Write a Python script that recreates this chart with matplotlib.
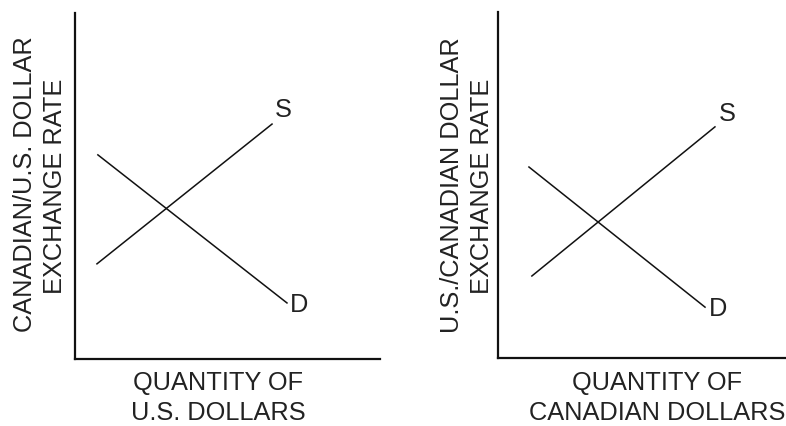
import matplotlib
matplotlib.use("Agg")
import matplotlib.pyplot as plt

plt.rcParams['font.family'] = ['Liberation Sans', 'DejaVu Sans']

# Left panel (Canadian/U.S. dollar market)
left_supply_x = [7.2, 64.6]
left_supply_y = [27.5, 67.9]
left_demand_x = [7.5, 69.5]
left_demand_y = [59.0, 16.2]

# Right panel (U.S./Canadian dollar market)
right_supply_x = [11.6, 74.3]
right_supply_y = [23.7, 66.8]
right_demand_x = [10.6, 70.9]
right_demand_y = [55.2, 14.7]

left_ylabel = ["CANADIAN/U.S. DOLLAR", "EXCHANGE RATE"]
left_xlabel = ["QUANTITY OF", "U.S. DOLLARS"]
right_ylabel = ["U.S./CANADIAN DOLLAR", "EXCHANGE RATE"]
right_xlabel = ["QUANTITY OF", "CANADIAN DOLLARS"]

W, H = 786, 426
fig = plt.figure(figsize=(W / 100, H / 100), dpi=100)
fig.patch.set_facecolor('white')

def px(x, y):
    return x / W, 1 - y / H

def make_ax(x0, x1, y_top, y_bot):
    ax = fig.add_axes([x0 / W, 1 - y_bot / H, (x1 - x0) / W, (y_bot - y_top) / H])
    ax.set_xlim(0, 100)
    ax.set_ylim(0, 100)
    for s in ('top', 'right'):
        ax.spines[s].set_visible(False)
    for s in ('left', 'bottom'):
        ax.spines[s].set_linewidth(1.6)
        ax.spines[s].set_color('#111111')
    ax.set_xticks([])
    ax.set_yticks([])
    ax.patch.set_alpha(0)
    return ax

axL = make_ax(75, 380, 13, 359)
axR = make_ax(498, 790, 12, 358)

lw = 1.1
axL.plot(left_supply_x, left_supply_y, color='#111111', lw=lw, clip_on=False)
axL.plot(left_demand_x, left_demand_y, color='#111111', lw=lw, clip_on=False)
axR.plot(right_supply_x, right_supply_y, color='#111111', lw=lw, clip_on=False)
axR.plot(right_demand_x, right_demand_y, color='#111111', lw=lw, clip_on=False)

big = 18.3
tc = '#222222'

# curve labels
fig.text(*px(283, 110), "S", fontsize=big, ha='center', va='center', color=tc)
fig.text(*px(299, 305), "D", fontsize=big, ha='center', va='center', color=tc)
fig.text(*px(727, 114), "S", fontsize=big, ha='center', va='center', color=tc)
fig.text(*px(718, 309), "D", fontsize=big, ha='center', va='center', color=tc)

# axis labels
fig.text(*px(25, 184), left_ylabel[0], fontsize=big, rotation=90, ha='center', va='center', color=tc)
fig.text(*px(55, 186), left_ylabel[1], fontsize=big, rotation=90, ha='center', va='center', color=tc)
fig.text(*px(218, 383), left_xlabel[0], fontsize=big, ha='center', va='center', color=tc)
fig.text(*px(218, 413), left_xlabel[1], fontsize=big, ha='center', va='center', color=tc)

fig.text(*px(452, 185), right_ylabel[0], fontsize=big, rotation=90, ha='center', va='center', color=tc)
fig.text(*px(482, 186), right_ylabel[1], fontsize=big, rotation=90, ha='center', va='center', color=tc)
fig.text(*px(657, 383), right_xlabel[0], fontsize=big, ha='center', va='center', color=tc)
fig.text(*px(785, 413), right_xlabel[1], fontsize=big, ha='right', va='center', color=tc)

fig.savefig("out.png", dpi=100, facecolor='white')
